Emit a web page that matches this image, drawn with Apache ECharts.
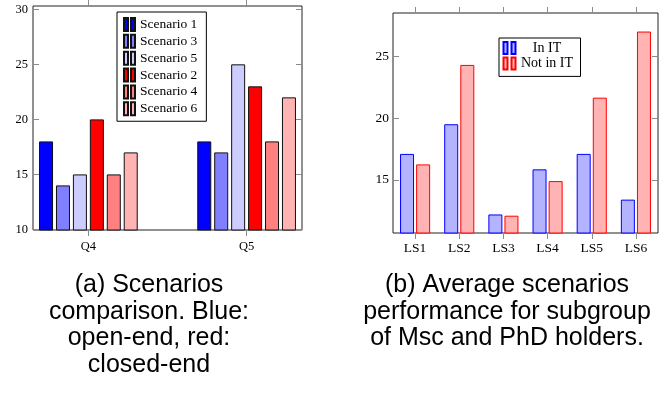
<!DOCTYPE html>
<html>
<head>
<meta charset="utf-8">
<script src="https://cdn.jsdelivr.net/npm/echarts@6/dist/echarts.min.js"></script>
<style>html,body{margin:0;padding:0;background:#fff}#c{width:664px;height:394px}</style>
</head>
<body>
<div id="c"></div>
<script>
// ---- Chart (a) data ----
const quarters = ['Q4', 'Q5'];
const scenarioNames = ['Scenario 1', 'Scenario 3', 'Scenario 5', 'Scenario 2', 'Scenario 4', 'Scenario 6'];
const scenario1 = [18, 18];
const scenario3 = [14, 17];
const scenario5 = [15, 25];
const scenario2 = [20, 23];
const scenario4 = [15, 18];
const scenario6 = [17, 22];
const leftYTicks = [10, 15, 20, 25, 30];

// ---- Chart (b) data ----
const lsCategories = ['LS1', 'LS2', 'LS3', 'LS4', 'LS5', 'LS6'];
const inIT = [17.1, 19.5, 12.2, 15.85, 17.1, 13.4];
const notInIT = [16.25, 24.3, 12.1, 14.9, 21.65, 27.0];
const rightYTicks = [15, 20, 25];

const captionA = '(a) Scenarios\ncomparison. Blue:\nopen-end, red:\nclosed-end';
const captionB = '(b) Average scenarios\nperformance for subgroup\nof Msc and PhD holders.';

const serif = 'Liberation Serif';
const tickColor = '#8a8a8a';
const scenarioColors = ['#0000ff', '#8080ff', '#ccccff', '#ff0000', '#ff8080', '#ffb3b3'];
const scenarioData = [scenario1, scenario3, scenario5, scenario2, scenario4, scenario6];

const chart = echarts.init(document.getElementById('c'), null, {renderer: 'canvas'});

const leftSeries = scenarioData.map((arr, k) => ({
  name: scenarioNames[k],
  type: 'bar',
  xAxisIndex: 0, yAxisIndex: 0,
  barWidth: 14,
  barGap: '21%',
  itemStyle: {color: scenarioColors[k], borderColor: '#111', borderWidth: 1},
  emphasis: {disabled: true},
  data: arr.map((v, i) => [i, v])
}));

const rightSeries = [
  {name: 'In IT', vals: inIT, fill: '#b3b3ff', stroke: '#0000ff'},
  {name: 'Not in IT', vals: notInIT, fill: '#ffb3b3', stroke: '#ff0000'}
].map(s => ({
  name: s.name,
  type: 'bar',
  xAxisIndex: 2, yAxisIndex: 2,
  barWidth: 14,
  barGap: '15%',
  itemStyle: {color: s.fill, borderColor: s.stroke, borderWidth: 1},
  emphasis: {disabled: true},
  data: s.vals
}));

const noLine = {show: false, onZero: false};
const captionStyle = {fontFamily: 'Liberation Sans', fontSize: 25, lineHeight: 26.5, fontWeight: 'normal', color: '#000'};

const option = {
  animation: false,
  backgroundColor: '#fff',
  title: [
    {text: captionA, left: 149, top: 272, textAlign: 'center', padding: 0, textStyle: captionStyle},
    {text: captionB, left: 507, top: 272, textAlign: 'center', padding: 0, textStyle: captionStyle}
  ],
  grid: [
    {left: 33, top: 6, width: 269, height: 224, show: true, borderColor: '#222', borderWidth: 1, containLabel: false},
    {left: 393, top: 13, width: 265, height: 220, show: true, borderColor: '#222', borderWidth: 1, containLabel: false}
  ],
  legend: [
    {
      data: scenarioNames, orient: 'vertical', left: 117, top: 12,
      padding: [5, 9, 5, 6], itemGap: 1.85, itemWidth: 11, itemHeight: 13,
      icon: 'path://M0,0h4v13h-4zM7,0h4v13h-4z',
      backgroundColor: '#fff', borderColor: '#000', borderWidth: 1, borderRadius: 0,
      selectedMode: false,
      textStyle: {fontFamily: serif, fontSize: 13.5, lineHeight: 14, color: '#000'}
    },
    {
      data: ['In IT', 'Not in IT'], orient: 'vertical', left: 499, top: 38,
      padding: [3, 7, 6, 3.5], itemGap: 1.4, itemWidth: 12, itemHeight: 12,
      icon: 'path://M0,0h4v12h-4zM8,0h4v12h-4z',
      backgroundColor: '#fff', borderColor: '#000', borderWidth: 1, borderRadius: 0,
      selectedMode: false,
      formatter: n => '{c|' + n + '}',
      textStyle: {fontFamily: serif, fontSize: 14, lineHeight: 14, color: '#000',
        rich: {c: {width: 53, align: 'center', fontFamily: serif, fontSize: 14, color: '#000'}}}
    }
  ],
  xAxis: [
    {gridIndex: 0, type: 'value', min: -0.35, max: 1.35, position: 'bottom',
     axisLine: noLine, splitLine: {show: false},
     axisTick: {show: true, inside: false, length: 6, customValues: [0, 1], lineStyle: {color: tickColor}},
     axisLabel: {customValues: [0, 1], formatter: v => quarters[Math.round(v)], margin: 10,
       fontFamily: serif, fontSize: 12.5, color: '#000'}},
    {gridIndex: 0, type: 'value', min: -0.35, max: 1.35, position: 'top',
     axisLine: noLine, splitLine: {show: false},
     axisTick: {show: true, inside: false, length: 6, customValues: [0, 1], lineStyle: {color: tickColor}},
     axisLabel: {show: false}},
    {gridIndex: 1, type: 'category', data: lsCategories, position: 'bottom',
     axisLine: noLine, splitLine: {show: false},
     axisTick: {show: true, inside: false, length: 6, alignWithLabel: true, lineStyle: {color: tickColor}},
     axisLabel: {margin: 8, fontFamily: serif, fontSize: 13.5, color: '#000'}},
    {gridIndex: 1, type: 'category', data: lsCategories, position: 'top',
     axisLine: noLine, splitLine: {show: false},
     axisTick: {show: true, inside: false, length: 6, alignWithLabel: true, lineStyle: {color: tickColor}},
     axisLabel: {show: false}}
  ],
  yAxis: [
    {gridIndex: 0, type: 'value', min: 9.95, max: 30.3, position: 'left',
     axisLine: noLine, splitLine: {show: false},
     axisTick: {show: true, inside: true, length: 6, customValues: leftYTicks, lineStyle: {color: tickColor}},
     axisLabel: {customValues: leftYTicks, margin: 5, fontFamily: serif, fontSize: 12.5, color: '#000'}},
    {gridIndex: 0, type: 'value', min: 9.95, max: 30.3, position: 'right',
     axisLine: noLine, splitLine: {show: false},
     axisTick: {show: true, inside: true, length: 6, customValues: leftYTicks, lineStyle: {color: tickColor}},
     axisLabel: {show: false}},
    {gridIndex: 1, type: 'value', min: 10.7, max: 28.5, position: 'left',
     axisLine: noLine, splitLine: {show: false},
     axisTick: {show: true, inside: true, length: 6, customValues: rightYTicks, lineStyle: {color: tickColor}},
     axisLabel: {customValues: rightYTicks, margin: 4, fontFamily: serif, fontSize: 13.5, color: '#000'}},
    {gridIndex: 1, type: 'value', min: 10.7, max: 28.5, position: 'right',
     axisLine: noLine, splitLine: {show: false},
     axisTick: {show: true, inside: true, length: 6, customValues: rightYTicks, lineStyle: {color: tickColor}},
     axisLabel: {show: false}}
  ],
  series: leftSeries.concat(rightSeries)
};
chart.setOption(option);
</script>
</body>
</html>
